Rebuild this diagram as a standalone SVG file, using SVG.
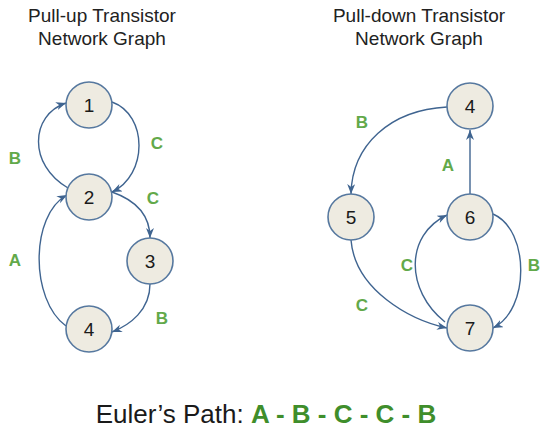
<svg xmlns="http://www.w3.org/2000/svg" width="541" height="434" viewBox="0 0 541 434">
<style>
.title{font-family:"Liberation Sans",Arial,sans-serif;font-size:19px;fill:#222;text-anchor:middle}
.node circle{fill:#eeebe1;stroke:#56789f;stroke-width:1.6}
.node text{font-family:"Liberation Sans",Arial,sans-serif;font-size:19px;fill:#1a1a1a;text-anchor:middle}
.edge{fill:none;stroke:#3f6490;stroke-width:1.4;marker-end:url(#arr)}
.lbl{font-family:"Liberation Sans",Arial,sans-serif;font-size:17px;font-weight:bold;fill:#62a94a;text-anchor:middle}
</style>
<defs>
<marker id="arr" markerUnits="userSpaceOnUse" markerWidth="12" markerHeight="10" refX="10" refY="4" orient="auto">
<path d="M0,0 L10,4 L0,8 L3,4 z" fill="#3f6490"/>
</marker>
</defs>
<rect width="541" height="434" fill="#fff"/>
<text class="title" x="102" y="22">Pull-up Transistor</text>
<text class="title" x="102" y="45">Network Graph</text>
<text class="title" x="419" y="22">Pull-down Transistor</text>
<text class="title" x="419" y="45">Network Graph</text>
<g id="connectors">
<path class="edge" d="M68,188 C28,165 30,115 66,103"/>
<path class="edge" d="M112,102 C148,115 148,175 112,192"/>
<path class="edge" d="M112,192 C135,200 150,215 150,238"/>
<path class="edge" d="M150,284 C150,310 130,325 112,332"/>
<path class="edge" d="M66,326 C30,300 30,215 67,195"/>
<path class="edge" d="M447,107 C390,110 352,145 351,194"/>
<path class="edge" d="M470,194 L470,130"/>
<path class="edge" d="M351,240 C355,290 410,320 447,328"/>
<path class="edge" d="M445,322 C405,290 405,235 447,215"/>
<path class="edge" d="M493,214 C530,230 530,310 493,328"/>
</g>
<g id="labels">
<text class="lbl" x="15" y="164">B</text>
<text class="lbl" x="157" y="149">C</text>
<text class="lbl" x="153" y="204">C</text>
<text class="lbl" x="162" y="324">B</text>
<text class="lbl" x="15" y="266">A</text>
<text class="lbl" x="362" y="128">B</text>
<text class="lbl" x="448" y="171">A</text>
<text class="lbl" x="362" y="311">C</text>
<text class="lbl" x="407" y="271">C</text>
<text class="lbl" x="534" y="271">B</text>
</g>
<g id="pu1" class="node"><circle cx="89" cy="105" r="23"/><text x="89" y="112">1</text></g>
<g id="pu2" class="node"><circle cx="89" cy="197" r="23"/><text x="89" y="204">2</text></g>
<g id="pu3" class="node"><circle cx="150" cy="261" r="23"/><text x="150" y="268">3</text></g>
<g id="pu4" class="node"><circle cx="89" cy="329" r="23"/><text x="89" y="336">4</text></g>
<g id="pd4" class="node"><circle cx="470" cy="106" r="23"/><text x="470" y="113">4</text></g>
<g id="pd5" class="node"><circle cx="351" cy="217" r="23"/><text x="351" y="224">5</text></g>
<g id="pd6" class="node"><circle cx="470" cy="217" r="23"/><text x="470" y="224">6</text></g>
<g id="pd7" class="node"><circle cx="470" cy="328" r="23"/><text x="470" y="335">7</text></g>
<text x="266" y="423" font-family="Liberation Sans, Arial, sans-serif" font-size="26" fill="#1a1a1a" text-anchor="middle">Euler’s Path: <tspan font-weight="bold" fill="#3f8e2b">A - B - C - C - B</tspan></text>
</svg>
